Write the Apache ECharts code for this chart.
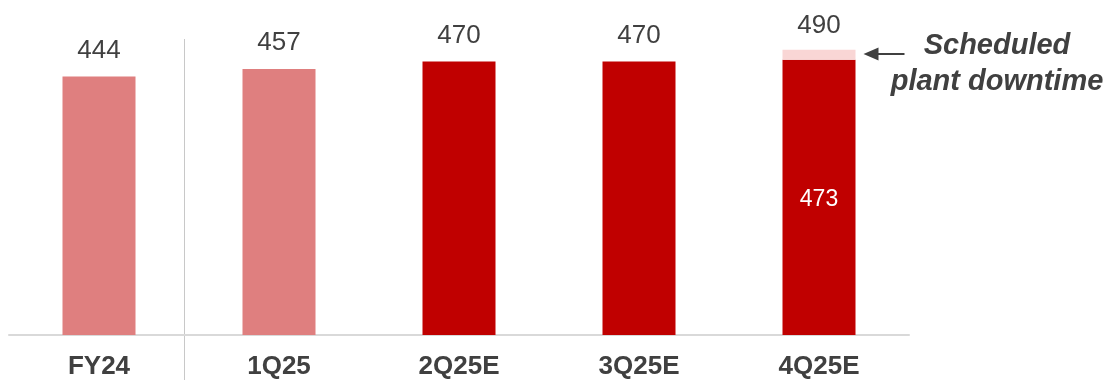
<!DOCTYPE html>
<html>
<head>
<meta charset="utf-8">
<script src="https://cdn.jsdelivr.net/npm/echarts@6/dist/echarts.min.js"></script>
<style>
  html, body { margin: 0; padding: 0; background: #ffffff; }
  #chart { width: 1109px; height: 380px; }
</style>
</head>
<body>
<div id="chart"></div>
<script>
// Production by period (units shown as labels)
const categories = ['FY24', '1Q25', '2Q25E', '3Q25E', '4Q25E'];
const baseValues = [444, 457, 470, 470, 473];
const downtimeValues = [null, null, null, null, 17];
const isActual = [true, true, false, false, false];
const noteLines = ['Scheduled', 'plant downtime'];

const TEXT = '#404040';
const ACTUAL = '#df7f7f';
const ESTIMATE = '#c00000';
const DOWNTIME = '#f9d6d5';
const FONT = '"Liberation Sans", Arial, sans-serif';

const chart = echarts.init(document.getElementById('chart'), null, { renderer: 'canvas' });

const baseData = baseValues.map((v, i) => {
  const hasDowntime = downtimeValues[i] != null;
  return {
    value: v,
    itemStyle: { color: isActual[i] ? ACTUAL : ESTIMATE },
    label: hasDowntime
      ? { show: true, position: 'inside', color: '#ffffff', fontSize: 23, offset: [0, 2] }
      : { show: true, position: 'top', distance: 13, color: TEXT, fontSize: 26 }
  };
});

const downtimeData = downtimeValues.map((v, i) => v == null ? null : {
  value: v,
  label: {
    show: true, position: 'top', distance: 11, color: TEXT, fontSize: 26,
    formatter: () => String(baseValues[i] + v)
  }
});

chart.setOption({
  animation: false,
  textStyle: { fontFamily: FONT },
  grid: { left: 9, right: 200, top: 44, bottom: 43, containLabel: false },
  xAxis: {
    type: 'category',
    data: categories,
    axisLine: { show: true, lineStyle: { color: '#d9d9d9', width: 2 } },
    axisTick: { show: false },
    axisLabel: { color: TEXT, fontSize: 26, fontWeight: 'bold', margin: 19, fontFamily: FONT }
  },
  yAxis: {
    type: 'value', min: 0, max: 500,
    show: false, splitLine: { show: false }
  },
  series: [
    {
      name: 'Production', type: 'bar', stack: 'total', barWidth: 73,
      data: baseData,
      label: { fontFamily: FONT }
    },
    {
      name: 'Scheduled plant downtime', type: 'bar', stack: 'total', barWidth: 73,
      itemStyle: { color: DOWNTIME },
      data: downtimeData,
      label: { fontFamily: FONT }
    }
  ]
});

// Decorations: period separator, downtime callout arrow and note
const lastIdx = categories.length - 1;
const segMid = chart.convertToPixel({ seriesIndex: 1 }, [lastIdx, baseValues[lastIdx] + downtimeValues[lastIdx] / 2]);
const barRight = segMid[0] + 73 / 2;
const arrowY = Math.round(segMid[1]) - 1;
const tipX = barRight + 8;

chart.setOption({
  graphic: [
    {
      type: 'line', silent: true,
      shape: { x1: 184.5, y1: 39, x2: 184.5, y2: 380 },
      style: { stroke: '#c8c8c8', lineWidth: 1 }
    },
    {
      type: 'line', silent: true,
      shape: { x1: tipX + 12, y1: arrowY, x2: tipX + 41, y2: arrowY },
      style: { stroke: TEXT, lineWidth: 2 }
    },
    {
      type: 'polygon', silent: true,
      shape: { points: [[tipX, arrowY], [tipX + 15, arrowY - 6.5], [tipX + 15, arrowY + 6.5]] },
      style: { fill: TEXT }
    },
    {
      type: 'text', silent: true,
      x: 997, y: 28,
      style: {
        text: noteLines.join('\n'),
        font: 'italic bold 29px ' + FONT,
        fill: TEXT,
        align: 'center',
        verticalAlign: 'top',
        lineHeight: 36
      }
    }
  ]
});
</script>
</body>
</html>
